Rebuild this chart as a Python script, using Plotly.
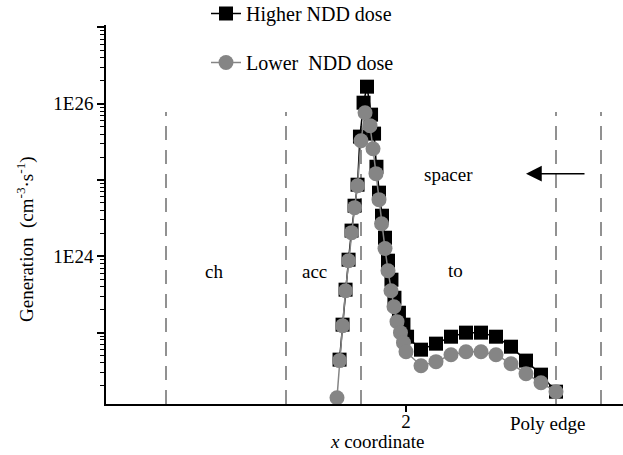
import plotly.graph_objects as go

# Position along the device (x coordinate) and generation rate (cm^-3 s^-1)
x_high = [1.557, 1.577, 1.597, 1.617, 1.637, 1.657, 1.677, 1.693, 1.717, 1.740,
          1.767, 1.787, 1.803, 1.820, 1.840, 1.860, 1.880, 1.903, 1.923, 1.953,
          1.983, 2.007, 2.1, 2.2, 2.3, 2.4, 2.5, 2.6, 2.7, 2.8, 2.9, 3.0]
gen_high = [4.42e22, 1.27e23, 3.65e23, 9.02e23, 2.17e24, 4.60e24, 8.67e24, 3.70e25,
            1.03e26, 1.67e26, 7.18e25, 4.05e25, 1.49e25, 6.82e24, 3.40e24, 1.75e24,
            8.75e23, 4.93e23, 2.86e23, 1.82e23, 1.27e23, 8.83e22, 5.97e22, 7.16e22,
            8.83e22, 9.98e22, 9.98e22, 8.83e22, 6.53e22, 4.29e22, 2.81e22, 1.68e22]

x_low = [1.540, 1.557, 1.577, 1.597, 1.617, 1.637, 1.657, 1.677, 1.700, 1.727,
         1.760, 1.780, 1.800, 1.820, 1.837, 1.860, 1.880, 1.900, 1.920, 1.940,
         1.963, 1.983, 2.000, 2.1, 2.2, 2.3, 2.4, 2.5, 2.6, 2.7, 2.8, 2.9, 3.0]
gen_low = [1.40e22, 4.29e22, 1.23e23, 3.54e23, 8.75e23, 2.04e24, 4.34e24, 8.41e24,
           3.27e25, 7.62e25, 5.15e25, 2.57e25, 1.21e25, 5.52e24, 2.67e24, 1.26e24,
           6.47e23, 3.54e23, 2.18e23, 1.39e23, 9.98e22, 7.38e22, 5.62e22, 3.68e22,
           4.16e22, 5.13e22, 5.62e22, 5.62e22, 5.13e22, 3.91e22, 2.89e22, 2.20e22,
           1.68e22]

series_names = ["Higher NDD dose", "Lower\u00a0 NDD dose"]

# Region boundaries (dashed) and region labels
boundaries = [0.4, 1.2, 1.7, 3.0, 3.3]
region_labels = ["ch", "acc", "to", "spacer"]
region_x = [0.717, 1.393, 2.327, 2.283]
region_logy = [23.80, 23.80, 23.81, 25.07]

# Axis ticks
x_tickvals = [2]
x_ticktext = ["2"]
y_tickvals = [1e23, 1e24, 1e25, 1e26, 1e27]
y_ticktext = ["", "1E24", "", "1E26", ""]
y_minor = [float(d) * 10.0 ** k for k in range(22, 27) for d in range(2, 10)]

FONT = "Liberation Serif"
GRAY = "#858585"

fig = go.Figure()
fig.add_trace(go.Scatter(
    x=x_high, y=gen_high, mode="lines+markers", name=series_names[0],
    line=dict(color="black", width=1.5),
    marker=dict(symbol="square", size=14, color="black"),
    legendgroup="a",
))
fig.add_trace(go.Scatter(
    x=x_low, y=gen_low, mode="lines+markers", name=series_names[1],
    line=dict(color=GRAY, width=1.5),
    marker=dict(symbol="circle", size=15, color=GRAY),
    legendgroup="b",
))

plot_h = 379
plot_w = 517
top_px = 112
for xb in boundaries:
    fig.add_shape(type="line", xref="x", yref="paper", x0=xb, x1=xb,
                  y0=0, y1=(404 - top_px) / plot_h,
                  line=dict(color="#6e6e6e", width=1.5, dash="14px,10px"),
                  layer="below")

for txt, xv, yv in zip(region_labels, region_x, region_logy):
    fig.add_annotation(x=xv, y=yv, xref="x", yref="y", text=txt,
                       xanchor="center", yanchor="middle",
                       showarrow=False, font=dict(family=FONT, size=19, color="black"))

# arrow pointing toward the spacer
fig.add_annotation(x=2.8, y=25.083, ax=3.2, ay=25.083, xref="x", yref="y",
                   axref="x", ayref="y", text="", showarrow=True,
                   arrowhead=2, arrowsize=2.1, arrowwidth=1.5, arrowcolor="black")

# axis titles and the poly-edge marker label
fig.add_annotation(x=(25 - 106) / plot_w, y=(404 - 239) / plot_h, xref="paper", yref="paper",
                   xanchor="center", yanchor="middle",
                   text="Generation\u00a0 (cm<sup>-3</sup>·s<sup>-1</sup>)", textangle=-90,
                   showarrow=False, font=dict(family=FONT, size=19, color="black"))
fig.add_annotation(x=(377 - 106) / plot_w, y=(404 - 441) / plot_h, xref="paper", yref="paper",
                   xanchor="center", yanchor="middle",
                   text="<i>x</i> coordinate", showarrow=False,
                   font=dict(family=FONT, size=19, color="black"))
fig.add_annotation(x=(547 - 106) / plot_w, y=(404 - 423) / plot_h, xref="paper", yref="paper",
                   xanchor="center", yanchor="middle",
                   text="Poly edge", showarrow=False,
                   font=dict(family=FONT, size=19, color="black"))

fig.update_layout(
    width=623, height=455,
    margin=dict(l=106, r=0, t=25, b=51, autoexpand=False),
    paper_bgcolor="white", plot_bgcolor="white",
    font=dict(family=FONT, size=19, color="black"),
    showlegend=True,
    legend=dict(x=(206 - 106) / plot_w, y=(404 + 6) / plot_h, xanchor="left", yanchor="top",
                bgcolor="rgba(0,0,0,0)", tracegroupgap=20,
                font=dict(family=FONT, size=20, color="black")),
    xaxis=dict(range=[0, 3.4467], tickmode="array", tickvals=x_tickvals, ticktext=x_ticktext,
               ticks="outside", ticklen=6, tickwidth=1.5, tickcolor="black",
               ticklabelstandoff=-7,
               showline=True, linecolor="black", linewidth=1.5, showgrid=False, zeroline=False,
               tickfont=dict(family=FONT, size=19)),
    yaxis=dict(type="log", range=[22.064, 27.031], tickmode="array",
               tickvals=y_tickvals, ticktext=y_ticktext,
               ticks="outside", ticklen=7, tickwidth=1.5, tickcolor="black",
               minor=dict(tickmode="array", tickvals=y_minor, ticks="outside", ticklen=4,
                          tickwidth=1, tickcolor="black", showgrid=False),
               showline=True, linecolor="black", linewidth=1.5, showgrid=False, zeroline=False,
               tickfont=dict(family=FONT, size=19)),
)

fig.write_html("out.html")
